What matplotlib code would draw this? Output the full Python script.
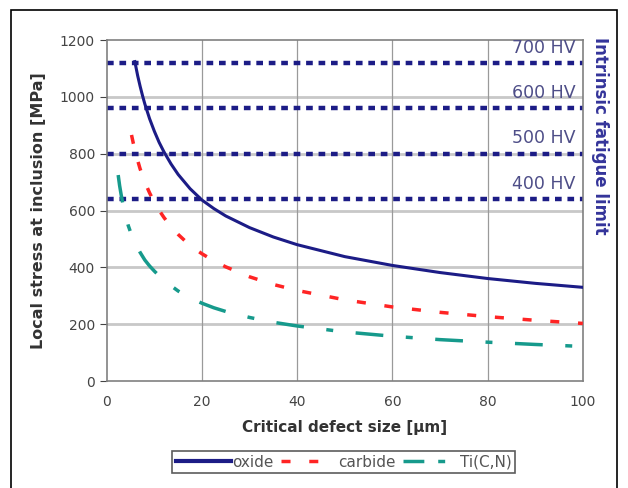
import numpy as np
import matplotlib.pyplot as plt
from matplotlib.lines import Line2D

# values
oxide_x = [5.9, 6.5, 7, 7.5, 8, 9, 10, 11, 12, 13.5, 15, 17.5, 20, 22.5, 25, 30, 35,
           40, 50, 60, 70, 80, 90, 100]
oxide_y = [1124, 1074, 1038, 1005, 975, 923, 879, 840, 807, 764, 727, 677, 637, 607,
           581, 540, 507, 480, 438, 407, 382, 361, 344, 330]

carbide_x = [5.2, 5.6, 6, 6.5, 7, 7.5, 8, 9, 10, 11, 12, 13.5, 15, 17.5, 20, 22.5, 25,
             30, 35, 40, 50, 60, 70, 80, 90, 100]
carbide_y = [866, 835, 808, 776, 747, 724, 700, 662, 629, 601, 576, 543, 516, 477,
             448, 423, 402, 367, 340, 319, 286, 261, 242, 227, 214, 203]

ticn_x = [2.4, 2.7, 3, 3.5, 4, 4.5, 5, 6, 7, 8, 9, 10, 12, 15, 17.5, 20, 22.5, 25,
          30, 35, 40, 50, 60, 70, 80, 90, 100]
ticn_y = [725, 688, 658, 614, 579, 548, 524, 484, 453, 426, 405, 387, 354, 317, 293,
          274, 258, 245, 224, 207, 194, 173, 158, 146, 137, 129, 122]

hv_labels = ["400 HV", "500 HV", "600 HV", "700 HV"]
hv_levels = [640, 800, 960, 1120]

navy = "#1c1c86"
red = "#ff2424"
teal = "#169a8c"
carbide_ls = (0, (2.6, 5.4))
ticn_ls = (0, (8, 6.5, 2, 6.5))

fig = plt.figure(figsize=(6.28, 4.88), dpi=100)
ax = fig.add_axes([0.170, 0.219, 0.758, 0.699])

# grid
for v in [200, 400, 600, 800, 1000]:
    ax.axhline(v, color="#c8c8c8", lw=2.0, zorder=0)
for v in [20, 40, 60, 80]:
    ax.axvline(v, color="#9a9a9a", lw=0.9, zorder=0)

# hardness levels
for lab, lev in zip(hv_labels, hv_levels):
    ax.plot([0, 100], [lev, lev], color=navy, lw=3.2, ls=(0, (1.5, 1.3)), zorder=2)
    ax.text(98.5, lev + 22, lab, ha="right", va="bottom", fontsize=12.5,
            color="#4e4e88", zorder=3)

ax.plot(oxide_x, oxide_y, color=navy, lw=2.2, zorder=4)
ax.plot(carbide_x, carbide_y, color=red, lw=2.5, ls=carbide_ls, zorder=4)
ax.plot(ticn_x, ticn_y, color=teal, lw=2.5, ls=ticn_ls, zorder=4)

ax.set_xlim(0, 100)
ax.set_ylim(0, 1200)
ax.set_xticks(range(0, 101, 20))
ax.set_yticks(range(0, 1201, 200))
ax.tick_params(axis="both", labelsize=10, colors="#444444", length=5)
ax.tick_params(axis="x", length=0, pad=10)
for s in ax.spines.values():
    s.set_color("#808080")
    s.set_linewidth(1.2)

ax.set_xlabel("Critical defect size [µm]", fontsize=11, fontweight="bold",
              color="#333333", labelpad=8)
ax.set_ylabel("Local stress at inclusion [MPa]", fontsize=11.5, fontweight="bold",
              color="#333333", labelpad=10)

ax.text(1.037, 1.01, "Intrinsic fatigue limit", transform=ax.transAxes,
        rotation=-90, ha="center", va="top", fontsize=12, fontweight="bold",
        color="#34349a")

handles = [
    Line2D([], [], color=navy, lw=3),
    Line2D([], [], color=red, lw=2.5, ls=carbide_ls),
    Line2D([], [], color=teal, lw=2.5, ls=(0, (6, 4, 2, 4))),
]
leg = fig.legend(handles, ["oxide", "carbide", "Ti(C,N)"], loc="center",
                 bbox_to_anchor=(0.547, 0.053), ncol=3, fontsize=11,
                 frameon=True, fancybox=False, handlelength=3.6,
                 handletextpad=0.1, columnspacing=0.5, borderpad=0.25,
                 labelcolor="#555555")
leg.get_frame().set_edgecolor("#333333")
leg.get_frame().set_linewidth(1.2)

# outer frame of the figure
fig.add_artist(plt.Rectangle((0.017, -0.05), 0.966, 1.03, transform=fig.transFigure,
                             fill=False, edgecolor="black", lw=1.2))

fig.savefig("out.png", dpi=100)
